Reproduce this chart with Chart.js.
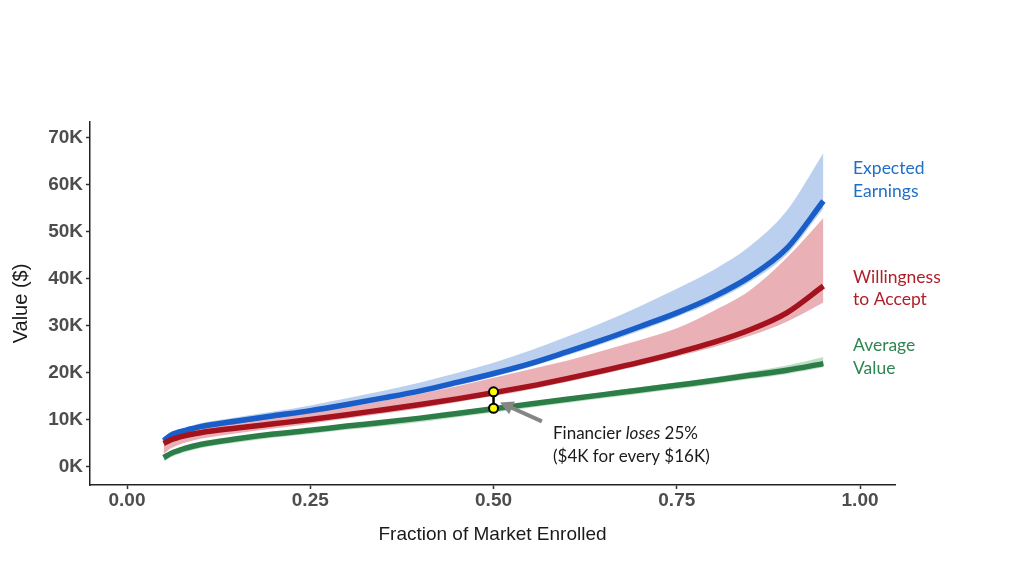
<!DOCTYPE html>
<html>
<head>
<meta charset="utf-8">
<script src="https://cdn.jsdelivr.net/npm/chart.js@4.4.1/dist/chart.umd.min.js"></script>
<style>
html, body { margin: 0; padding: 0; background: #fff; }
#wrap { width: 1024px; height: 576px; }
</style>
</head>
<body>
<div id="wrap"><canvas id="enrollChart" width="1024" height="576"></canvas></div>
<script>
// fraction of market enrolled
const fractions = [0.05, 0.06, 0.07, 0.08, 0.10, 0.15, 0.20, 0.25, 0.30, 0.35, 0.40, 0.45, 0.50, 0.55, 0.60, 0.65, 0.70, 0.75, 0.80, 0.85, 0.90, 0.95];

// expected earnings ($)
const earnings   = [5600, 6800, 7400, 7800, 8600, 9800, 10900, 12000, 13300, 14700, 16200, 18000, 19900, 22000, 24500, 27100, 29900, 32800, 36200, 40500, 46500, 56600];
const earningsLo = [5000, 6200, 6800, 7200, 8000, 9200, 10300, 11400, 12700, 14100, 15600, 17300, 19200, 21300, 23700, 26300, 29000, 31900, 35200, 39400, 45200, 55000];
const earningsHi = [6200, 7400, 8000, 8400, 9300, 10600, 11800, 13100, 14600, 16200, 18000, 20000, 22200, 24800, 27700, 30800, 34200, 37900, 41900, 47000, 54500, 66800];

// willingness to accept ($)
const accept   = [5000, 5800, 6300, 6700, 7300, 8300, 9200, 10100, 11100, 12200, 13300, 14500, 15800, 17200, 18800, 20500, 22300, 24300, 26500, 29200, 32800, 38500];
const acceptLo = [2800, 4000, 4700, 5200, 6000, 7200, 8200, 9200, 10300, 11400, 12500, 13800, 15100, 16500, 18100, 19800, 21600, 23500, 25500, 27900, 30900, 35000];
const acceptHi = [6000, 6800, 7300, 7700, 8400, 9500, 10600, 11600, 12800, 14100, 15600, 17200, 19000, 20800, 22600, 24800, 27000, 29500, 33200, 37600, 44500, 53000];

// average value ($)
const average   = [2000, 2900, 3500, 4000, 4800, 6000, 7000, 7800, 8700, 9500, 10400, 11400, 12400, 13400, 14400, 15400, 16400, 17400, 18400, 19500, 20600, 22000];
const averageLo = [1200, 2100, 2700, 3200, 4000, 5200, 6200, 7000, 7900, 8700, 9600, 10600, 11600, 12600, 13600, 14600, 15600, 16600, 17600, 18700, 19800, 21200];
const averageHi = [2400, 3300, 3900, 4400, 5200, 6400, 7400, 8200, 9100, 9900, 10800, 11800, 12800, 13800, 14800, 15900, 17000, 18000, 19100, 20300, 21600, 23400];

// gap marked at half the market: willingness vs average value
const gapX = [0.5, 0.5];
const gapY = [16000, 12500];

const xTicks = [0, 0.25, 0.5, 0.75, 1.0];
const yTicks = [0, 10000, 20000, 30000, 40000, 50000, 60000, 70000];

const pts = (ys, xs = fractions) => ys.map((y, i) => ({ x: xs[i], y: y }));

const lineStyle = (data, color) => ({
    data: pts(data),
    borderColor: color,
    borderWidth: 5.5,
    pointRadius: 0,
    fill: false,
    cubicInterpolationMode: 'monotone',
    borderCapStyle: 'butt'
});

const bandEdge = (data) => ({
    data: pts(data),
    borderWidth: 0,
    borderColor: 'rgba(0,0,0,0)',
    pointRadius: 0,
    fill: false,
    cubicInterpolationMode: 'monotone'
});

const bandTop = (data, color) => ({
    data: pts(data),
    borderWidth: 0,
    borderColor: 'rgba(0,0,0,0)',
    backgroundColor: color,
    pointRadius: 0,
    fill: '-1',
    cubicInterpolationMode: 'monotone'
});

// annotation: arrow + texts on the right
const notes = {
    id: 'notes',
    afterDraw(chart) {
        const c = chart.ctx;
        const xs = chart.scales.x, ys = chart.scales.y;
        c.save();

        // grey arrow pointing at the gap
        const x1 = xs.getPixelForValue(0.566), y1 = ys.getPixelForValue(9700);
        const x2 = xs.getPixelForValue(0.509), y2 = ys.getPixelForValue(13700);
        const ang = Math.atan2(y2 - y1, x2 - x1);
        c.strokeStyle = '#858585';
        c.fillStyle = '#858585';
        c.lineWidth = 4;
        c.beginPath();
        c.moveTo(x1, y1);
        c.lineTo(x2 - 9 * Math.cos(ang), y2 - 9 * Math.sin(ang));
        c.stroke();
        c.beginPath();
        c.moveTo(x2, y2);
        c.lineTo(x2 - 13 * Math.cos(ang) + 7 * Math.sin(ang), y2 - 13 * Math.sin(ang) - 7 * Math.cos(ang));
        c.lineTo(x2 - 13 * Math.cos(ang) - 7 * Math.sin(ang), y2 - 13 * Math.sin(ang) + 7 * Math.cos(ang));
        c.closePath();
        c.fill();

        c.textBaseline = 'middle';
        c.textAlign = 'left';

        // annotation text
        const base = '17px Lato, "Open Sans", sans-serif';
        const ital = 'italic 17px Lato, "Open Sans", sans-serif';
        c.fillStyle = '#1a1a1a';
        let tx = 553;
        c.font = base;
        c.fillText('Financier ', tx, 434);
        tx += c.measureText('Financier ').width;
        c.font = ital;
        c.fillText('loses', tx, 434);
        tx += c.measureText('loses').width;
        c.font = base;
        c.fillText(' 25%', tx, 434);
        c.fillText('($4K for every $16K)', 553, 457);

        // series labels
        c.font = '17.5px Lato, "Open Sans", sans-serif';
        c.fillStyle = '#1f6fc8';
        c.fillText('Expected', 853, 168);
        c.fillText('Earnings', 853, 191);
        c.fillStyle = '#b01e28';
        c.fillText('Willingness', 853, 277);
        c.fillText('to Accept', 853, 299);
        c.fillStyle = '#2e8552';
        c.fillText('Average', 853, 345);
        c.fillText('Value', 853, 368);

        c.restore();
    }
};

const ctx = document.getElementById('enrollChart').getContext('2d');

const enrollChart = new Chart(ctx, {
    type: 'line',
    data: {
        datasets: [
            // gap marker (drawn on top)
            {
                data: pts(gapY, gapX),
                borderColor: '#000',
                borderWidth: 2.5,
                pointRadius: 4.5,
                pointBorderWidth: 2,
                pointBackgroundColor: '#ffff00',
                pointBorderColor: '#000',
                fill: false
            },
            lineStyle(average, '#2c7d47'),
            lineStyle(accept, '#a3121d'),
            lineStyle(earnings, '#195ec8'),
            // ribbons
            bandEdge(averageLo),
            bandTop(averageHi, 'rgba(60,160,90,0.35)'),
            bandEdge(acceptLo),
            bandTop(acceptHi, 'rgba(200,60,70,0.4)'),
            bandEdge(earningsLo),
            bandTop(earningsHi, 'rgba(60,120,210,0.35)')
        ]
    },
    options: {
        responsive: false,
        animation: false,
        layout: { padding: { top: 122, right: 129, left: 5, bottom: 26 } },
        plugins: {
            legend: { display: false },
            tooltip: { enabled: false },
            title: { display: false }
        },
        scales: {
            x: {
                type: 'linear',
                min: -0.0505,
                max: 1.0477,
                afterBuildTicks: (s) => { s.ticks = xTicks.map(v => ({ value: v })); },
                afterFit: (s) => { s.height = 65; },
                ticks: {
                    color: '#4d4d4d',
                    font: { family: '"Liberation Sans", Arial', size: 19, weight: 'bold' },
                    padding: 0,
                    maxRotation: 0,
                    callback: (v) => Number(v).toFixed(2)
                },
                grid: { drawOnChartArea: false, drawTicks: true, tickLength: 4, tickColor: '#333', tickWidth: 1.5 },
                border: { display: true, color: '#222', width: 1.5 },
                title: {
                    display: true,
                    text: 'Fraction of Market Enrolled',
                    color: '#1a1a1a',
                    font: { family: '"Liberation Sans", Arial', size: 19 },
                    padding: { top: 4, bottom: 4 }
                }
            },
            y: {
                type: 'linear',
                min: -3830,
                max: 73400,
                afterBuildTicks: (s) => { s.ticks = yTicks.map(v => ({ value: v })); },
                afterFit: (s) => { s.width = 85; },
                ticks: {
                    color: '#4d4d4d',
                    font: { family: '"Liberation Sans", Arial', size: 19, weight: 'bold' },
                    padding: 3,
                    callback: (v) => (v / 1000) + 'K'
                },
                grid: { drawOnChartArea: false, drawTicks: true, tickLength: 4, tickColor: '#333', tickWidth: 1.5 },
                border: { display: true, color: '#222', width: 1.5 },
                title: {
                    display: true,
                    text: 'Value ($)',
                    color: '#1a1a1a',
                    font: { family: '"Liberation Sans", Arial', size: 20 },
                    padding: { top: 4, bottom: 4 }
                }
            }
        }
    },
    plugins: [notes]
});
</script>
</body>
</html>
